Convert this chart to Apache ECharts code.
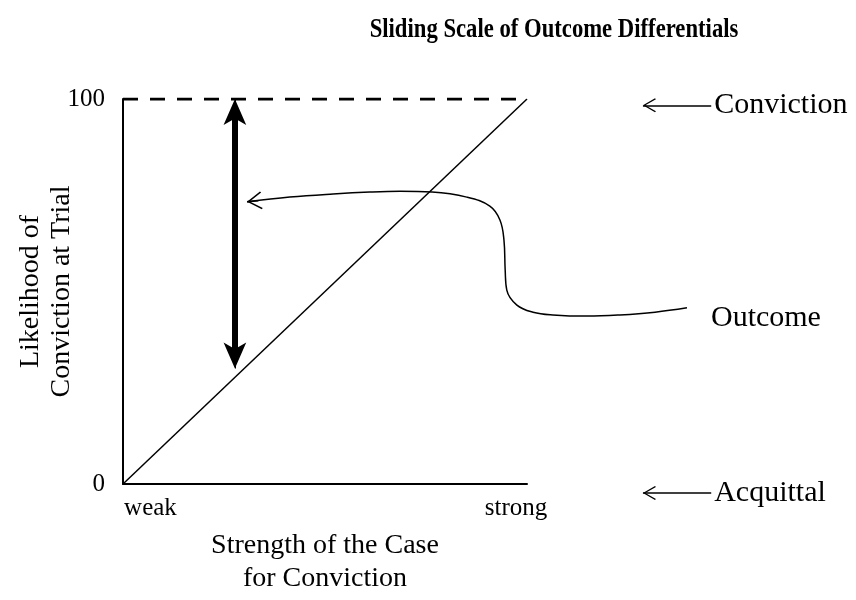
<!DOCTYPE html>
<html>
<head>
<meta charset="utf-8">
<script src="https://cdn.jsdelivr.net/npm/echarts@6/dist/echarts.min.js"></script>
<style>
  html, body { margin: 0; padding: 0; background: #fff; }
  #main-chart { width: 856px; height: 600px; }
</style>
</head>
<body>
<div id="main-chart"></div>
<script>
// Conceptual chart: likelihood of conviction vs. strength of the case

const titleText = 'Sliding Scale of Outcome Differentials';
const xAxisTitle = 'Strength of the Case\nfor Conviction';
const yAxisTitle = 'Likelihood of\nConviction at Trial';

// x tick positions (0-100 scale of case strength) and their labels
const xTickValues = [6.8, 97.3];
const xTickLabels = ['weak', 'strong'];
const yTickValues = [0, 100];
const yTickLabels = ['0', '100'];

// 45 degree reference line and the 100% ceiling
const diagonalLine = [[0, 0], [100, 100]];
const ceilingLine = [[0, 100], [100, 100]];

// the double headed "differential" arrow (tips at 30 and 100)
const spreadArrowX = 27.7;
const spreadArrowY = [30, 100];

// outcome curve, starts at the arrow and ends at the "Outcome" label
const outcomeCurve = [
    [30.7, 73.9], [41.3, 75.1], [52.0, 75.9], [61.1, 76.4], [68.6, 76.6],
    [76.5, 76.4], [85.1, 75.1], [90.8, 72.8], [93.3, 69.3], [94.3, 64.2],
    [94.6, 56.6], [95.0, 51.5], [97.5, 47.7], [101.5, 45.9], [106.4, 45.2],
    [114.9, 44.9], [123.0, 45.2], [131.7, 45.9], [139.6, 47.0]
];

// side annotations: name, y value, arrow tip / tail x
const sideNames = ['Conviction', 'Acquittal'];
const sideY = [98.4, 0];
const sideArrowX = [128.7, 145.6];

const serif = 'Liberation Serif';
// open chevron with its tip at the centre of the symbol box
const chevron = 'path://M10,0 L10.05,0 L10,0.05 Z M10,14 L20,27 L18.6,28 L10,16.6 L1.4,28 L0,27 Z';

document.addEventListener('DOMContentLoaded', function () {
    var myChart = echarts.init(document.getElementById('main-chart'));

    // shaft stops inside the heads so the tips stay sharp
    var shaftInset = 4;

    var option = {
        animation: false,
        backgroundColor: '#fff',
        graphic: [{
            type: 'text',
            x: 554,
            y: 30,
            scaleX: 0.84,
            silent: true,
            style: {
                text: titleText,
                font: 'bold 27px "Liberation Serif"',
                fill: '#000',
                align: 'center',
                verticalAlign: 'middle'
            }
        }],
        grid: [
            { left: 123, right: 329, top: 99, bottom: 107 },
            { left: 123, right: 0, top: 99, bottom: 107 }
        ],
        xAxis: [{
            type: 'value', gridIndex: 0, min: 0, max: 100,
            splitLine: { show: false },
            axisLine: { lineStyle: { color: '#000', width: 2 } },
            axisTick: { show: false },
            axisLabel: {
                customValues: xTickValues,
                formatter: function (v) { return xTickLabels[xTickValues.indexOf(v)]; },
                fontFamily: serif, fontSize: 25, color: '#000', margin: 12
            },
            name: xAxisTitle,
            nameLocation: 'middle',
            nameGap: 45,
            nameMoveOverlap: false,
            nameTextStyle: { fontFamily: serif, fontSize: 28, color: '#000', lineHeight: 33 }
        }, {
            type: 'value', gridIndex: 1, min: 0, max: 181.44, show: false
        }],
        yAxis: [{
            type: 'value', gridIndex: 0, min: 0, max: 100,
            splitLine: { show: false },
            axisLine: { show: true, lineStyle: { color: '#000', width: 2 } },
            axisTick: { show: false },
            axisLabel: {
                customValues: yTickValues,
                formatter: function (v) { return yTickLabels[yTickValues.indexOf(v)]; },
                fontFamily: serif, fontSize: 25, color: '#000', margin: 18
            },
            name: yAxisTitle,
            nameLocation: 'middle',
            nameRotate: 90,
            nameGap: 46,
            nameMoveOverlap: false,
            nameTextStyle: { fontFamily: serif, fontSize: 28, color: '#000', lineHeight: 31 }
        }, {
            type: 'value', gridIndex: 1, min: 0, max: 100, show: false
        }],
        series: [{
            name: 'ceiling',
            type: 'line',
            xAxisIndex: 0, yAxisIndex: 0,
            data: ceilingLine,
            symbol: 'none',
            lineStyle: { color: '#000', width: 3, type: [15, 12] }
        }, {
            name: 'diagonal',
            type: 'line',
            xAxisIndex: 0, yAxisIndex: 0,
            data: diagonalLine,
            symbol: 'none',
            lineStyle: { color: '#000', width: 1.5 }
        }, {
            name: 'spread',
            type: 'line',
            xAxisIndex: 0, yAxisIndex: 0,
            data: [],
            markLine: {
                silent: true,
                symbol: 'none',
                symbolSize: [17, 26],
                label: { show: false },
                lineStyle: { color: '#000', width: 6, type: 'solid' },
                data: [
                    [
                        { coord: [spreadArrowX, spreadArrowY[0]], symbol: 'arrow', lineStyle: { width: 1 } },
                        { coord: [spreadArrowX, spreadArrowY[1]], symbol: 'arrow' }
                    ],
                    [
                        { coord: [spreadArrowX, spreadArrowY[0] + shaftInset] },
                        { coord: [spreadArrowX, spreadArrowY[1] - shaftInset] }
                    ]
                ]
            }
        }, {
            name: 'outcome',
            type: 'line',
            xAxisIndex: 1, yAxisIndex: 1,
            data: outcomeCurve,
            smooth: 0.4,
            symbol: 'none',
            lineStyle: { color: '#000', width: 1.5 },
            endLabel: {
                show: true,
                formatter: 'Outcome',
                distance: 24,
                offset: [0, 10],
                fontFamily: serif, fontSize: 30, color: '#000'
            },
            markLine: {
                silent: true,
                symbol: [chevron, 'none'],
                symbolSize: [18, 30],
                label: { show: false },
                lineStyle: { color: '#000', width: 1.5, type: 'solid' },
                data: [[{ coord: outcomeCurve[0] }, { coord: [33.5, 74.2] }]]
            }
        }, {
            name: 'sides',
            type: 'line',
            xAxisIndex: 1, yAxisIndex: 1,
            data: [],
            markLine: {
                silent: true,
                symbol: [chevron, 'none'],
                symbolSize: [14, 26],
                lineStyle: { color: '#000', width: 1.5, type: 'solid' },
                label: {
                    show: true, position: 'end', distance: 3,
                    formatter: '{b}',
                    fontFamily: serif, fontSize: 30, color: '#000'
                },
                data: sideNames.map(function (n, i) {
                    return [
                        { name: n, coord: [sideArrowX[0], sideY[i]] },
                        { coord: [sideArrowX[1], sideY[i]] }
                    ];
                })
            }
        }]
    };

    myChart.setOption(option);
});
</script>
</body>
</html>
